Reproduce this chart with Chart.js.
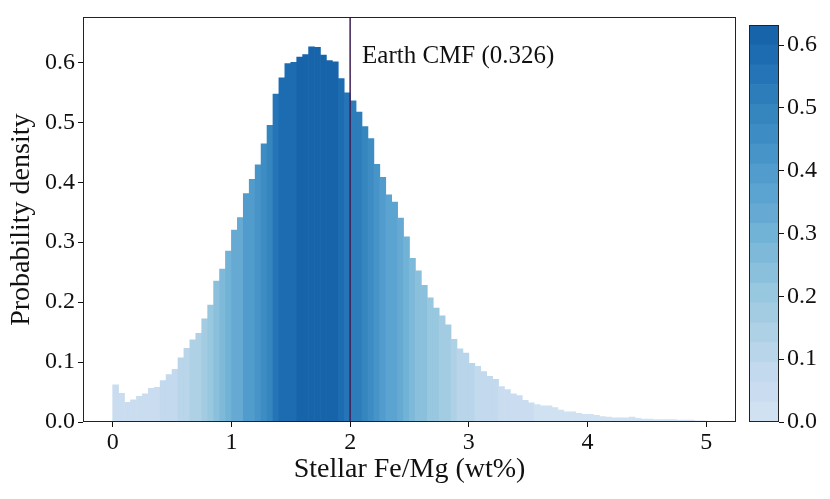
<!DOCTYPE html>
<html>
<head>
<meta charset="utf-8">
<script src="https://cdn.jsdelivr.net/npm/chart.js@4.4.1/dist/chart.umd.min.js"></script>
<style>
  html, body { margin: 0; padding: 0; background: #fff; }
  #wrap { position: relative; width: 830px; height: 499px; }
  #wrap canvas { position: absolute; left: 0; top: 0; }
</style>
</head>
<body>
<div id="wrap">
  <canvas id="hist" width="830" height="499"></canvas>
  <canvas id="cbar" width="830" height="499"></canvas>
</div>
<script>
// Histogram bins: 0.05 wt% wide, starting at 0
const binStart = 0;
const binWidth = 0.05;

// Probability density per bin
const density = [
  0.062, 0.048, 0.033, 0.037, 0.043, 0.047, 0.056, 0.058, 0.069, 0.079,
  0.088, 0.107, 0.123, 0.137, 0.148, 0.172, 0.195, 0.235, 0.255, 0.285,
  0.320, 0.341, 0.381, 0.405, 0.429, 0.464, 0.495, 0.547, 0.574, 0.598,
  0.600, 0.609, 0.613, 0.626, 0.625, 0.612, 0.603, 0.601, 0.573, 0.549,
  0.536, 0.517, 0.493, 0.473, 0.430, 0.408, 0.379, 0.367, 0.340, 0.309,
  0.273, 0.252, 0.228, 0.207, 0.190, 0.177, 0.162, 0.138, 0.122, 0.115,
  0.098, 0.093, 0.084, 0.076, 0.071, 0.059, 0.054, 0.047, 0.044, 0.036,
  0.032, 0.029, 0.027, 0.027, 0.024, 0.020, 0.017, 0.017, 0.0145, 0.013,
  0.013, 0.011, 0.009, 0.008, 0.007, 0.007, 0.007, 0.008, 0.006, 0.005,
  0.005, 0.004, 0.004, 0.004, 0.004, 0.003, 0.003, 0.003, 0.002, 0.002
];

const xTicks = [0, 1, 2, 3, 4, 5];
const yTicks = [0, 0.1, 0.2, 0.3, 0.4, 0.5, 0.6];
const cbarTicks = [0, 0.1, 0.2, 0.3, 0.4, 0.5, 0.6];

const earthFeMg = 2.0;
const earthLabel = 'Earth CMF (0.326)';
const earthLabelPos = { x: 2.1, y: 0.61 };

const xTitle = 'Stellar Fe/Mg (wt%)';
const yTitle = 'Probability density';

// colour scale
const colorLevels = 20;
const cbarMax = 0.632;

const FONT = "'Liberation Serif', 'Times New Roman', serif";
const INK = '#111';

const BLUES = [
  [247, 251, 255], [222, 235, 247], [198, 219, 239], [158, 202, 225],
  [107, 174, 214], [66, 146, 198], [33, 113, 181], [8, 81, 156], [8, 48, 107]
];

function blues(t) {
  const p = Math.max(0, Math.min(1, t)) * 8;
  const i = Math.min(7, Math.floor(p));
  const f = p - i;
  const a = BLUES[i], b = BLUES[i + 1];
  const c = a.map((v, k) => Math.round(v + (b[k] - v) * f));
  return `rgb(${c[0]},${c[1]},${c[2]})`;
}

function levelColor(level) {
  return blues(0.2 + 0.6 * level / (colorLevels - 1));
}

function levelOf(v) {
  return Math.min(colorLevels - 1, Math.floor(v / cbarMax * colorLevels));
}

const binCenters = density.map((_, i) => binStart + binWidth * (i + 0.5));

// box around the plotting area
const framePlugin = {
  id: 'frame',
  afterDraw(chart) {
    const { ctx, chartArea: a } = chart;
    ctx.save();
    ctx.strokeStyle = '#222';
    ctx.lineWidth = 1;
    ctx.strokeRect(Math.round(a.left) + 0.5, Math.round(a.top) + 0.5,
      Math.round(a.right - a.left) - 1, Math.round(a.bottom - a.top) - 1);
    ctx.restore();
  }
};

const earthPlugin = {
  id: 'earth',
  afterDatasetsDraw(chart) {
    const { ctx, chartArea: a, scales } = chart;
    const px = scales.x.getPixelForValue(earthFeMg);
    ctx.save();
    ctx.strokeStyle = '#3f1f55';
    ctx.lineWidth = 1.5;
    ctx.beginPath();
    ctx.moveTo(px, a.top);
    ctx.lineTo(px, a.bottom);
    ctx.stroke();
    ctx.fillStyle = INK;
    ctx.font = `25px ${FONT}`;
    ctx.textAlign = 'left';
    ctx.textBaseline = 'middle';
    ctx.fillText(earthLabel, scales.x.getPixelForValue(earthLabelPos.x),
      scales.y.getPixelForValue(earthLabelPos.y));
    ctx.restore();
  }
};

new Chart(document.getElementById('hist'), {
  type: 'bar',
  data: {
    datasets: [{
      data: binCenters.map((x, i) => ({ x, y: density[i] })),
      backgroundColor: density.map(v => levelColor(levelOf(v))),
      borderWidth: 0,
      barPercentage: 1,
      categoryPercentage: 1
    }]
  },
  options: {
    responsive: false,
    animation: false,
    events: [],
    layout: { padding: { left: 0, top: 17, right: 94, bottom: 0 } },
    plugins: { legend: { display: false }, tooltip: { enabled: false } },
    scales: {
      x: {
        type: 'linear',
        min: -0.25,
        max: 5.25,
        offset: false,
        afterFit: s => { s.height = 77; },
        afterBuildTicks: s => { s.ticks = xTicks.map(v => ({ value: v })); },
        grid: { offset: false, drawOnChartArea: false, tickLength: 5, color: INK },
        border: { display: false },
        ticks: { color: INK, font: { family: FONT, size: 24 }, padding: 1,
          maxRotation: 0, callback: v => String(v) },
        title: { display: true, text: xTitle, color: INK,
          font: { family: FONT, size: 28 }, padding: { top: 0, bottom: 13 } }
      },
      y: {
        min: 0,
        max: 0.675,
        afterFit: s => { s.width = 83; },
        afterBuildTicks: s => { s.ticks = yTicks.map(v => ({ value: v })); },
        grid: { drawOnChartArea: false, tickLength: 5, color: INK },
        border: { display: false },
        ticks: { color: INK, font: { family: FONT, size: 24 }, padding: 3,
          callback: v => v.toFixed(1) },
        title: { display: true, text: yTitle, color: INK,
          font: { family: FONT, size: 28 }, padding: { top: 5, bottom: 0 } }
      }
    }
  },
  plugins: [earthPlugin, framePlugin]
});

// colour bar: one floating segment per colour level
const levels = Array.from({ length: colorLevels }, (_, i) => i);

new Chart(document.getElementById('cbar'), {
  type: 'bar',
  data: {
    labels: [''],
    datasets: levels.map(i => ({
      data: [[i * cbarMax / colorLevels, (i + 1) * cbarMax / colorLevels]],
      backgroundColor: levelColor(i),
      borderWidth: 0,
      grouped: false,
      barPercentage: 1,
      categoryPercentage: 1
    }))
  },
  options: {
    responsive: false,
    animation: false,
    events: [],
    layout: { padding: { left: 749, top: 25, right: 0, bottom: 77 } },
    plugins: { legend: { display: false }, tooltip: { enabled: false } },
    scales: {
      x: { display: false },
      y: {
        position: 'right',
        min: 0,
        max: cbarMax,
        afterFit: s => { s.width = 51; },
        afterBuildTicks: s => { s.ticks = cbarTicks.map(v => ({ value: v })); },
        grid: { drawOnChartArea: false, tickLength: 5, color: INK },
        border: { display: false },
        ticks: { color: INK, font: { family: FONT, size: 24 }, padding: 3,
          callback: v => v.toFixed(1) }
      }
    }
  },
  plugins: [framePlugin]
});
</script>
</body>
</html>
